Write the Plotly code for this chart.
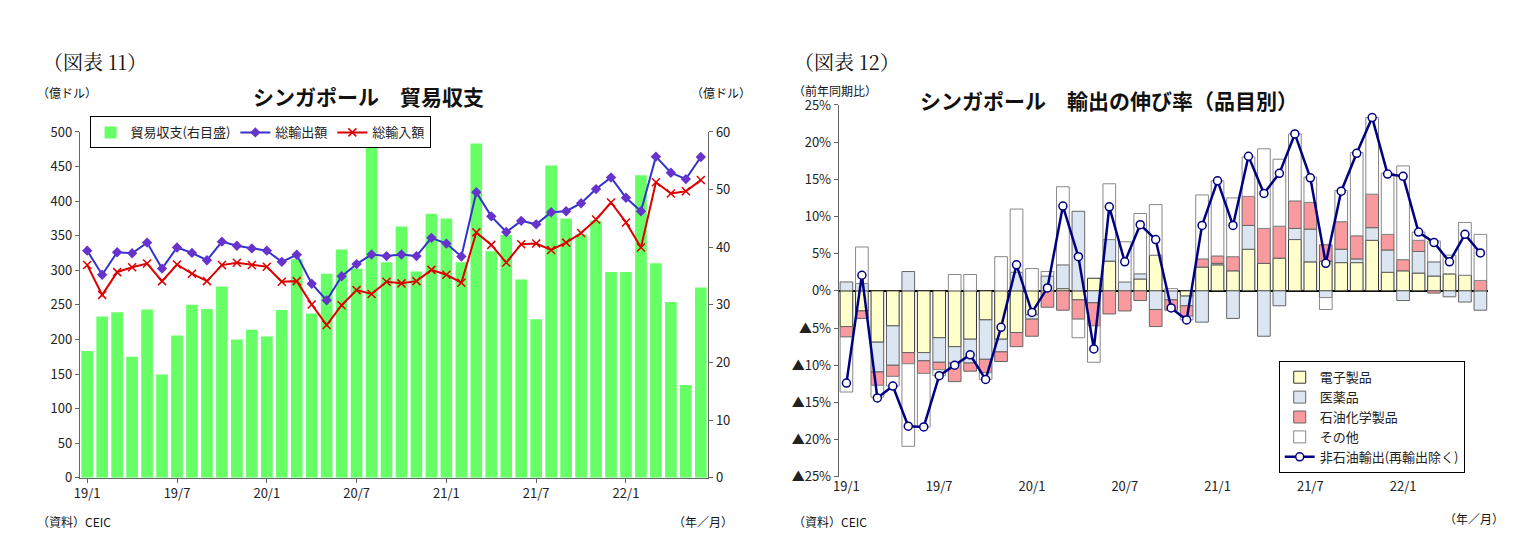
import plotly.graph_objects as go

months = [f"{y}/{m}" for y in (19, 20, 21, 22) for m in range(1, 13)][:42]
tick_labels = ["19/1", "19/7", "20/1", "20/7", "21/1", "21/7", "22/1"]

balance = [22.0,28.0,28.7,21.0,29.2,17.9,24.7,30.0,29.3,33.2,24.0,25.7,24.5,29.1,37.9,28.5,35.4,39.6,36.3,57.5,
           37.4,43.6,35.8,45.8,45.0,37.4,58.0,39.3,42.1,34.4,27.5,54.2,45.0,42.2,44.6,35.7,35.7,52.5,37.2,30.5,16.1,33.0]
exports = [328.4,293.6,326.1,324.7,340.0,302.4,333.0,325.1,314.5,341.4,335.4,331.6,328.4,312.2,322.4,280.6,256.5,291.3,
           308.9,322.8,320.5,322.8,320.5,346.9,338.6,320.0,412.8,378.0,355.3,371.5,366.4,384.0,385.4,397.0,417.4,434.1,
           404.9,385.4,464.3,441.1,431.8,463.8]
imports = [307.5,264.4,297.3,304.3,309.8,284.3,308.4,295.0,284.3,307.5,310.8,307.5,305.2,283.4,284.3,250.5,220.8,249.5,
           271.3,265.8,283.4,281.1,284.3,300.6,293.6,282.0,354.8,336.7,311.2,337.7,338.6,329.3,340.0,353.9,373.4,398.0,
           369.2,333.0,427.2,411.0,414.2,430.4]

electronics = [-4.8,-2.7,-6.9,-4.7,-8.3,-8.3,-6.3,-7.5,-6.5,-3.9,-6.5,-5.6,-3.2,0,0.3,-1.2,1.7,4.0,0,1.6,4.8,
               0,-0.7,3.2,3.5,2.7,5.6,3.7,4.4,6.9,3.9,4.0,3.8,3.8,6.8,2.5,2.7,2.4,2.0,2.3,2.1,0]
pharma = [1.2,1.0,-4.0,-5.3,2.6,-1.1,-3.3,-2.2,-3.2,-5.3,-1.7,2.5,-0.6,2.0,3.2,10.7,-1.6,2.9,1.2,0.7,-2.5,
          -1.2,-1.3,-4.2,0.2,-3.7,3.2,-6.1,-2.0,1.5,4.4,-0.9,1.8,0.5,1.7,3.0,-1.3,2.9,1.9,-0.8,-1.5,-2.6]
petrochem = [-1.4,-1.0,-1.8,-1.5,-1.5,-1.7,-1.0,-2.5,-1.1,-1.8,-1.3,-1.9,-2.3,-2.2,-2.6,-2.6,-3.1,-3.1,-2.7,-1.3,-2.3,
             -1.4,-1.4,1.1,1.0,1.9,3.9,4.7,4.3,3.7,3.6,2.2,3.7,3.1,4.5,2.1,1.5,1.5,-0.3,0,0,1.4]
others = [-7.4,4.9,-1.6,-1.3,-11.1,-7.2,-0.8,2.2,2.2,-0.9,4.6,8.5,3.0,0.6,10.5,-2.5,-4.9,7.5,5.4,8.1,6.8,
          0.3,-0.5,8.6,10.1,7.9,5.3,10.7,9.0,9.0,3.4,-1.6,4.2,11.2,10.3,8.2,12.6,1.1,2.8,2.5,7.1,6.2]
non_oil = [-12.4,2.1,-14.4,-12.8,-18.2,-18.3,-11.4,-10.0,-8.6,-11.9,-4.9,3.5,-2.9,0.4,11.4,4.6,-7.8,11.3,3.9,8.9,6.9,
           -2.3,-3.9,8.8,14.8,8.8,18.1,13.1,15.8,21.1,15.2,3.7,13.4,18.5,23.3,15.7,15.4,7.9,6.5,3.9,7.6,5.1]

x = list(range(len(months)))
tickvals = [months.index(t) for t in tick_labels]
FONT = "Noto Sans CJK JP"

fig = go.Figure()
# left panel
fig.add_trace(go.Bar(x=x, y=balance, name="貿易収支(右目盛)", marker=dict(color="#66FF66", line=dict(width=0)),
                     width=0.78, xaxis="x", yaxis="y", legend="legend"))
fig.add_trace(go.Scatter(x=x, y=exports, name="総輸出額", mode="lines+markers",
                         line=dict(color="#3333CC", width=2), marker=dict(symbol="diamond", size=8, color="#6633CC"),
                         xaxis="x", yaxis="y2", legend="legend"))
fig.add_trace(go.Scatter(x=x, y=imports, name="総輸入額", mode="lines+markers",
                         line=dict(color="#DD0000", width=2), marker=dict(symbol="x-thin", size=8, line=dict(color="#DD0000", width=1.5)),
                         xaxis="x", yaxis="y2", legend="legend"))
# right panel
for name, vals, col, lc in [("電子製品", electronics, "#FFFFCC", "#333333"),
                            ("医薬品", pharma, "#DCE6F2", "#666666"),
                            ("石油化学製品", petrochem, "#F99A9E", "#666666"),
                            ("その他", others, "#FFFFFF", "#888888")]:
    fig.add_trace(go.Bar(x=x, y=vals, name=name, marker=dict(color=col, line=dict(color=lc, width=1)),
                         width=0.82, xaxis="x2", yaxis="y3", legend="legend2"))
fig.add_trace(go.Scatter(x=x, y=non_oil, name="非石油輸出(再輸出除く)", mode="lines+markers",
                         line=dict(color="#000080", width=2.5),
                         marker=dict(symbol="circle", size=8, color="white", line=dict(color="#000080", width=1.5)),
                         xaxis="x2", yaxis="y3", legend="legend2"))

pct_vals = list(range(-25, 30, 5))
pct_text = [("▲" + str(-v) + "%") if v < 0 else (str(v) + "%") for v in pct_vals]

axis_common = dict(showgrid=False, showline=True, linecolor="#666", ticks="outside",
                   ticklen=4, tickcolor="#666", tickfont=dict(size=13, color="#222"))
fig.update_layout(
    width=1517, height=557, margin=dict(l=0, r=0, t=0, b=0),
    paper_bgcolor="white", plot_bgcolor="white", barmode="relative", bargap=0.15,
    font=dict(family=FONT, color="#222"),
    xaxis=dict(domain=[0.0435, 0.4595], range=[-0.5, 41.5], tickvals=tickvals, ticktext=tick_labels,
               anchor="y", zeroline=False, **axis_common),
    yaxis=dict(domain=[0.1454, 0.7882], range=[0, 60], dtick=10, side="right", anchor="x", zeroline=False, **axis_common),
    yaxis2=dict(range=[0, 500], dtick=50, side="left", overlaying="y", anchor="x", zeroline=False, **axis_common),
    xaxis2=dict(domain=[0.5458, 0.9756], range=[-0.5, 41.5], tickvals=tickvals, ticktext=tick_labels,
                anchor="y3", showgrid=False, zeroline=False, showline=False, ticks="",
                tickfont=dict(size=13, color="#222")),
    yaxis3=dict(domain=[0.1472, 0.8384], range=[-25, 25], tickvals=pct_vals, ticktext=pct_text,
                anchor="x2", zeroline=True, zerolinecolor="black", zerolinewidth=1.5, **axis_common),
    legend=dict(orientation="h", x=0.050, y=0.817, xanchor="left", yanchor="top",
                bordercolor="black", borderwidth=1, bgcolor="white", font=dict(size=13),
                itemwidth=30, tracegroupgap=0),
    legend2=dict(x=0.837, y=0.362, xanchor="left", yanchor="top", bordercolor="black", borderwidth=1,
                 bgcolor="white", font=dict(size=13), tracegroupgap=2, itemwidth=30),
)

ann = [
    dict(x=0.018, y=0.92, text="（図表 11）", size=20, family="Noto Serif CJK JP, serif"),
    dict(x=0.157, y=0.855, text="<b>シンガポール　貿易収支</b>", size=21),
    dict(x=0.014, y=0.862, text="（億ドル）", size=12),
    dict(x=0.447, y=0.862, text="（億ドル）", size=12),
    dict(x=0.014, y=0.065, text="（資料）CEIC", size=12),
    dict(x=0.435, y=0.065, text="（年／月）", size=12),
    dict(x=0.515, y=0.92, text="（図表 12）", size=20, family="Noto Serif CJK JP, serif"),
    dict(x=0.514, y=0.866, text="（前年同期比）", size=12),
    dict(x=0.598, y=0.848, text="<b>シンガポール　輸出の伸び率（品目別）</b>", size=21),
    dict(x=0.514, y=0.065, text="（資料）CEIC", size=12),
    dict(x=0.945, y=0.07, text="（年／月）", size=12),
]
for a in ann:
    fig.add_annotation(x=a["x"], y=a["y"], xref="paper", yref="paper", xanchor="left", yanchor="middle",
                       text=a["text"], showarrow=False,
                       font=dict(size=a["size"], family=a.get("family", FONT), color="#111"))

fig.write_html("out.html")
